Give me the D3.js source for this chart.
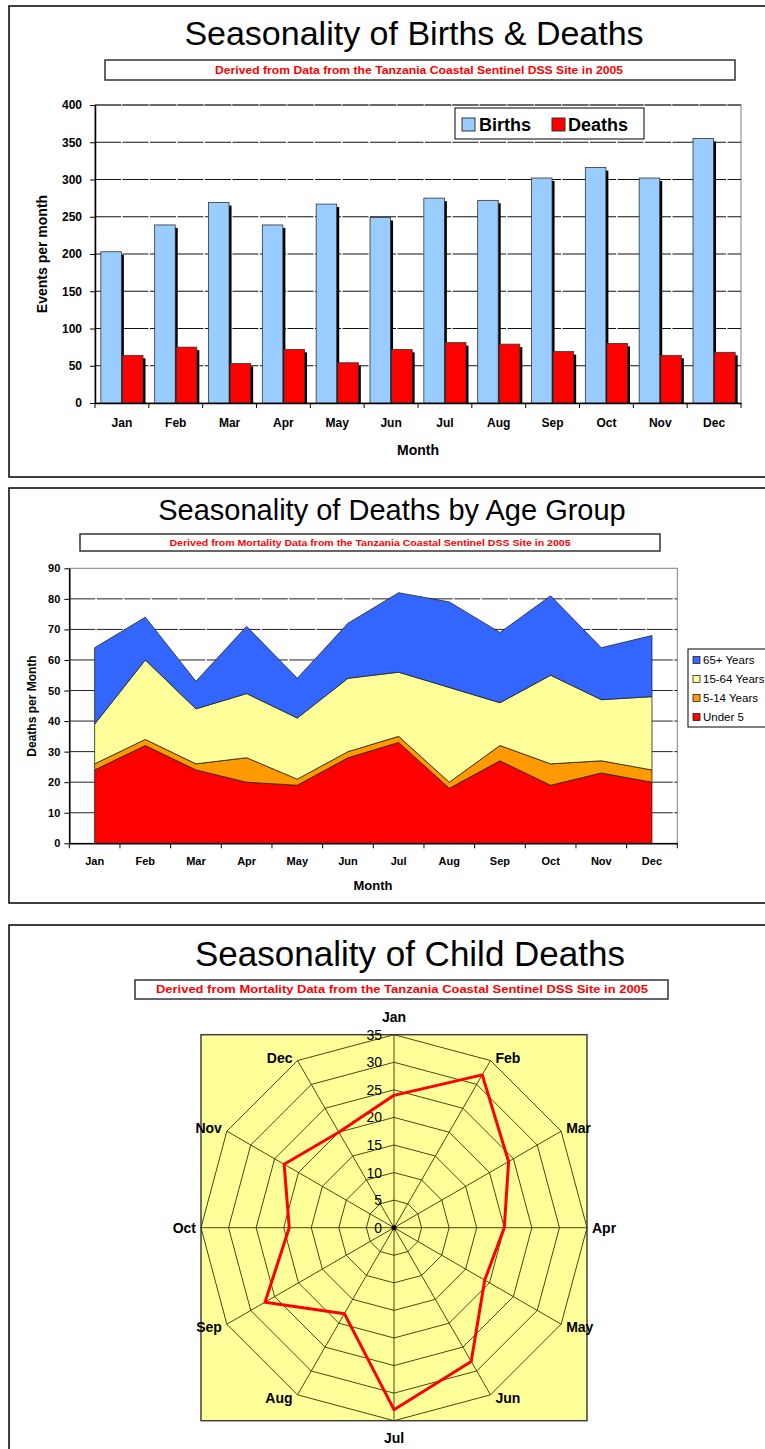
<!DOCTYPE html>
<html>
<head>
<meta charset="utf-8">
<script src="https://cdn.jsdelivr.net/npm/d3@7"></script>
<style>
  body { margin: 0; background: #fff; }
  svg { display: block; font-family: "Liberation Sans", Arial, sans-serif; }
</style>
</head>
<body>
<svg id="page" width="765" height="1449"></svg>
<script>
// data
const months = ['Jan','Feb','Mar','Apr','May','Jun','Jul','Aug','Sep','Oct','Nov','Dec'];
const births = [203, 239, 269, 239, 267, 249, 275, 272, 302, 316, 302, 355];
const deaths = [64, 75, 53, 72, 54, 72, 81, 79, 69, 80, 64, 68];
const under5 = [24, 32, 24, 20, 19, 28, 33, 18, 27, 19, 23, 20];
const age5to14 = [2, 2, 2, 8, 2, 2, 2, 2, 5, 7, 4, 4];
const age15to64 = [13, 26, 18, 21, 20, 24, 21, 31, 14, 29, 20, 24];
const age65plus = [25, 14, 9, 22, 13, 18, 26, 28, 23, 26, 17, 20];
const ageGroups = ['Under 5', '5-14 Years', '15-64 Years', '65+ Years'];
const ageColors = ['#FF0000', '#FF9900', '#FFFF99', '#3366FF'];
const eventTicks = [0, 50, 100, 150, 200, 250, 300, 350, 400];
const deathTicks = [0, 10, 20, 30, 40, 50, 60, 70, 80, 90];
const radarTicks = [0, 5, 10, 15, 20, 25, 30, 35];

const svg = d3.select('#page');

// panel frames
function panel(y, h) {
    svg.append('rect')
        .attr('x', 9).attr('y', y)
        .attr('width', 770).attr('height', h)
        .attr('fill', '#fff').attr('stroke', '#000').attr('stroke-width', 1.5);
}
panel(6, 471);
panel(488, 415);
panel(925, 560);

function subtitle(x0, y0, w, h, txt, size, len, cx, base) {
    svg.append('rect')
        .attr('x', x0).attr('y', y0).attr('width', w).attr('height', h)
        .attr('fill', '#fff').attr('stroke', '#333').attr('stroke-width', 1.5);
    svg.append('text')
        .attr('x', cx).attr('y', base)
        .attr('text-anchor', 'middle')
        .attr('textLength', len).attr('lengthAdjust', 'spacingAndGlyphs')
        .style('font-size', size + 'px').style('font-weight', 'bold')
        .style('fill', '#FF0000')
        .text(txt);
}

function title(txt, cx, base, size) {
    svg.append('text')
        .attr('x', cx).attr('y', base)
        .attr('text-anchor', 'middle')
        .style('font-size', size + 'px')
        .text(txt);
}

// ---------- Chart 1 : births & deaths ----------
function createBarChart() {
    title('Seasonality of Births & Deaths', 414, 45, 34);
    subtitle(105, 60, 630, 20, 'Derived from Data  from the Tanzania Coastal Sentinel DSS Site in 2005', 11, 408, 419, 74);

    const x = d3.scaleBand().domain(months).range([95, 741]);
    const xs = d3.scaleBand().domain(['Births', 'Deaths'])
        .range([0, x.bandwidth()]).paddingInner(0.05).paddingOuter(0.27);
    const y = d3.scaleLinear().domain([0, 400]).range([403, 105]);

    svg.append('rect')
        .attr('x', 95).attr('y', 105).attr('width', 646).attr('height', 298)
        .attr('fill', '#fff').attr('stroke', '#808080');

    svg.append('g').selectAll('line')
        .data(eventTicks.slice(1))
        .enter().append('line')
        .attr('x1', 95).attr('x2', 741)
        .attr('y1', d => y(d)).attr('y2', d => y(d))
        .attr('stroke', '#111').attr('stroke-dasharray', '26,1.5');

    const rows = months.map((m, i) => ({ month: m, Births: births[i], Deaths: deaths[i] }));
    const fills = { Births: '#99CCFF', Deaths: '#FF0000' };

    ['Births', 'Deaths'].forEach(k => {
        const g = svg.append('g');
        g.selectAll('rect.shadow')
            .data(rows).enter().append('rect')
            .attr('class', 'shadow')
            .attr('x', d => x(d.month) + xs(k) + 2.5)
            .attr('y', d => y(d[k]) + 3)
            .attr('width', xs.bandwidth())
            .attr('height', d => y(0) - y(d[k]) - 3)
            .attr('fill', '#000');
        g.selectAll('rect.bar')
            .data(rows).enter().append('rect')
            .attr('class', 'bar')
            .attr('x', d => x(d.month) + xs(k))
            .attr('y', d => y(d[k]))
            .attr('width', xs.bandwidth())
            .attr('height', d => y(0) - y(d[k]))
            .attr('fill', fills[k]).attr('stroke', '#333').attr('stroke-width', 0.8);
    });

    const ya = svg.append('g')
        .attr('transform', 'translate(95,0)')
        .call(d3.axisLeft(y).tickValues(eventTicks).tickSize(5).tickSizeOuter(0).tickPadding(8));
    ya.select('.domain').attr('stroke', '#000').attr('stroke-width', 1.5);
    ya.selectAll('text').style('font-size', '12px').style('font-weight', 'bold').style('font-family', 'inherit');

    const xa = svg.append('g')
        .attr('transform', 'translate(0,403)')
        .call(d3.axisBottom(x).tickSize(0).tickPadding(15));
    xa.select('.domain').attr('stroke', '#000').attr('stroke-width', 1.5);
    xa.selectAll('text').style('font-size', '12px').style('font-weight', 'bold').style('font-family', 'inherit');
    svg.append('g').selectAll('line')
        .data(months.map(m => x(m)).concat([x.range()[1]]))
        .enter().append('line')
        .attr('x1', d => d).attr('x2', d => d)
        .attr('y1', 403).attr('y2', 408)
        .attr('stroke', '#000');

    svg.append('text')
        .attr('transform', 'rotate(-90)')
        .attr('x', -254).attr('y', 47)
        .attr('text-anchor', 'middle')
        .style('font-size', '14px').style('font-weight', 'bold')
        .text('Events per month');
    svg.append('text')
        .attr('x', 418).attr('y', 455)
        .attr('text-anchor', 'middle')
        .style('font-size', '14px').style('font-weight', 'bold')
        .text('Month');

    // legend
    svg.append('rect')
        .attr('x', 455).attr('y', 108).attr('width', 189).attr('height', 31)
        .attr('fill', '#fff').attr('stroke', '#000');
    [['Births', 462, 479], ['Deaths', 552, 568]].forEach(([k, sx, tx]) => {
        svg.append('rect')
            .attr('x', sx).attr('y', 118).attr('width', 13).attr('height', 13)
            .attr('fill', fills[k]).attr('stroke', '#333');
        svg.append('text')
            .attr('x', tx).attr('y', 131)
            .style('font-size', '18px').style('font-weight', 'bold')
            .text(k);
    });
}

// ---------- Chart 2 : deaths by age group ----------
function createAreaChart() {
    title('Seasonality of Deaths by Age Group', 392, 520, 29);
    subtitle(80, 534, 580, 17, 'Derived from Mortality Data  from the Tanzania Coastal Sentinel DSS Site in 2005', 9, 401, 370, 546);

    const x = d3.scaleBand().domain(months).range([69.3, 677.3]);
    const y = d3.scaleLinear().domain([0, 90]).range([843.3, 568.3]);
    const cx = m => x(m) + x.bandwidth() / 2;

    svg.append('rect')
        .attr('x', 69.3).attr('y', 568.3).attr('width', 608).attr('height', 275)
        .attr('fill', '#fff').attr('stroke', '#808080');

    svg.append('g').selectAll('line')
        .data(deathTicks.slice(1, -1))
        .enter().append('line')
        .attr('x1', 69.3).attr('x2', 677.3)
        .attr('y1', d => y(d)).attr('y2', d => y(d))
        .attr('stroke', '#222').attr('stroke-dasharray', '26,1.5');

    const table = months.map((m, i) => ({
        month: m,
        'Under 5': under5[i],
        '5-14 Years': age5to14[i],
        '15-64 Years': age15to64[i],
        '65+ Years': age65plus[i]
    }));
    const stacked = d3.stack().keys(ageGroups)(table);
    const area = d3.area()
        .x(d => cx(d.data.month))
        .y0(d => y(d[0]))
        .y1(d => y(d[1]));

    svg.append('g').selectAll('path')
        .data(stacked)
        .enter().append('path')
        .attr('d', area)
        .attr('fill', (d, i) => ageColors[i])
        .attr('stroke', '#222').attr('stroke-width', 0.8);

    const ya = svg.append('g')
        .attr('transform', 'translate(69.3,0)')
        .call(d3.axisLeft(y).tickValues(deathTicks).tickSize(5).tickSizeOuter(0).tickPadding(4));
    ya.select('.domain').attr('stroke', '#000').attr('stroke-width', 1.5);
    ya.selectAll('text').style('font-size', '11px').style('font-weight', 'bold').style('font-family', 'inherit');

    const xa = svg.append('g')
        .attr('transform', 'translate(0,843.3)')
        .call(d3.axisBottom(x).tickSize(0).tickPadding(14));
    xa.select('.domain').attr('stroke', '#000').attr('stroke-width', 1.5);
    xa.selectAll('text').style('font-size', '11px').style('font-weight', 'bold').style('font-family', 'inherit');
    svg.append('g').selectAll('line')
        .data(months.map(m => x(m)).concat([x.range()[1]]))
        .enter().append('line')
        .attr('x1', d => d).attr('x2', d => d)
        .attr('y1', 843.3).attr('y2', 848.3)
        .attr('stroke', '#000');

    svg.append('text')
        .attr('transform', 'rotate(-90)')
        .attr('x', -706).attr('y', 36)
        .attr('text-anchor', 'middle')
        .style('font-size', '12px').style('font-weight', 'bold')
        .text('Deaths per Month');
    svg.append('text')
        .attr('x', 373).attr('y', 890)
        .attr('text-anchor', 'middle')
        .style('font-size', '13px').style('font-weight', 'bold')
        .text('Month');

    // legend, top group first
    svg.append('rect')
        .attr('x', 688).attr('y', 649).attr('width', 100).attr('height', 78)
        .attr('fill', '#fff').attr('stroke', '#000');
    const leg = ageGroups.slice().reverse();
    leg.forEach((k, i) => {
        const yy = 660 + i * 19;
        svg.append('rect')
            .attr('x', 693).attr('y', yy - 3.5).attr('width', 7).attr('height', 7)
            .attr('fill', ageColors[ageGroups.indexOf(k)]).attr('stroke', '#222').attr('stroke-width', 0.8);
        svg.append('text')
            .attr('x', 703).attr('y', yy)
            .attr('dominant-baseline', 'central')
            .style('font-size', '11.5px')
            .text(k);
    });
}

// ---------- Chart 3 : radar of under-5 deaths ----------
function createRadarChart() {
    title('Seasonality of Child Deaths', 410, 966, 35);
    subtitle(135, 980, 533, 19, 'Derived from Mortality Data  from the Tanzania Coastal Sentinel DSS Site in 2005', 11, 492, 402, 993);

    const cx = 394, cy = 1227.7, R = 193;
    const r = d3.scaleLinear().domain([0, 35]).range([0, R]);
    const ang = d3.scaleLinear().domain([0, 12]).range([0, 2 * Math.PI]);
    const pt = (i, v) => [cx + r(v) * Math.sin(ang(i)), cy - r(v) * Math.cos(ang(i))];

    svg.append('rect')
        .attr('x', cx - R).attr('y', cy - R).attr('width', 2 * R).attr('height', 2 * R)
        .attr('fill', '#FFFF99').attr('stroke', '#404040').attr('stroke-width', 1.5);

    const ring = d3.line().curve(d3.curveLinearClosed);
    svg.append('g').selectAll('path')
        .data(radarTicks.slice(1))
        .enter().append('path')
        .attr('d', t => ring(months.map((m, i) => pt(i, t))))
        .attr('fill', 'none').attr('stroke', '#333300').attr('stroke-width', 0.9);

    svg.append('g').selectAll('line')
        .data(months)
        .enter().append('line')
        .attr('x1', cx).attr('y1', cy)
        .attr('x2', (m, i) => pt(i, 35)[0]).attr('y2', (m, i) => pt(i, 35)[1])
        .attr('stroke', '#333300').attr('stroke-width', 0.9);

    svg.append('circle').attr('cx', cx).attr('cy', cy).attr('r', 2.5).attr('fill', '#000');

    svg.append('g').selectAll('text')
        .data(radarTicks)
        .enter().append('text')
        .attr('x', cx - 12).attr('y', t => cy - r(t))
        .attr('text-anchor', 'end')
        .attr('dominant-baseline', 'central')
        .style('font-size', '14px')
        .text(t => t);

    svg.append('path')
        .attr('d', ring(under5.map((v, i) => pt(i, v))))
        .attr('fill', 'none').attr('stroke', '#FF0000').attr('stroke-width', 3)
        .attr('stroke-linejoin', 'round');

    svg.append('g').selectAll('text')
        .data(months)
        .enter().append('text')
        .each(function (m, i) {
            const [px, py] = pt(i, 35);
            const s = Math.sin(ang(i)), c = Math.cos(ang(i));
            let anchor = 'middle', tx = px, ty = py;
            if (Math.abs(s) < 0.01) { ty = py + (c > 0 ? -18 : 17); }
            else {
                anchor = s > 0 ? 'start' : 'end';
                tx = px + (s > 0 ? 5 : -5);
                ty = py + (Math.abs(c) < 0.01 ? 0 : (c > 0 ? -3 : 3));
            }
            d3.select(this)
                .attr('x', tx).attr('y', ty)
                .attr('text-anchor', anchor)
                .attr('dominant-baseline', 'central');
        })
        .style('font-size', '14px').style('font-weight', 'bold')
        .text(m => m);
}

createBarChart();
createAreaChart();
createRadarChart();
</script>
</body>
</html>
